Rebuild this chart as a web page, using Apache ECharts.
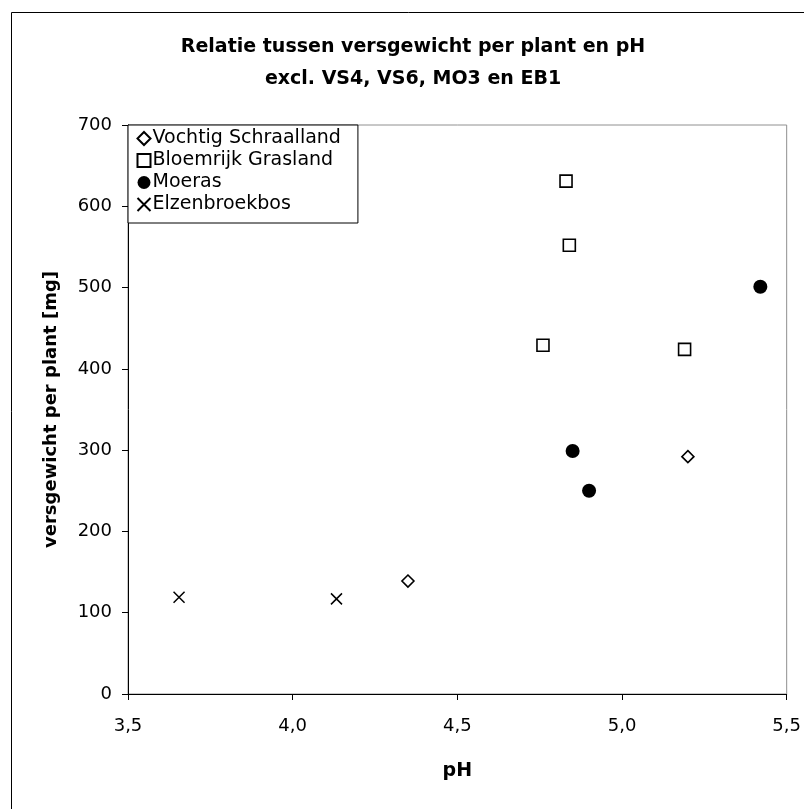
<!DOCTYPE html>
<html>
<head>
<meta charset="utf-8">
<script src="https://cdn.jsdelivr.net/npm/echarts@6/dist/echarts.min.js"></script>
<style>
  html, body { margin: 0; padding: 0; background: #fff; }
  #chart { width: 804px; height: 809px; }
</style>
</head>
<body>
<div id="chart"></div>
<script>
// [pH, versgewicht]
const vochtigSchraalland = [[4.35, 139], [5.20, 292]]
const bloemrijkGrasland = [[4.83, 631], [4.84, 552], [4.76, 429], [5.19, 424]]
const moeras = [[4.85, 299], [4.90, 250], [5.42, 501]]
const elzenbroekbos = [[3.655, 119], [4.133, 117]]

const xTicks = { min: 3.5, max: 5.5, step: 0.5 }
const yTicks = { min: 0, max: 700, step: 100 }

const font = '"DejaVu Sans", sans-serif'
const crossPath = 'path://M0,0L10,10M10,0L0,10'

const myChart = echarts.init(document.getElementById('chart'))

const option = {
  backgroundColor: '#fff',
  animation: false,
  title: {
    text: 'Relatie tussen versgewicht per plant en pH\nexcl. VS4, VS6, MO3 en EB1',
    left: 408,
    top: 26,
    textAlign: 'center',
    textStyle: {
      fontFamily: font,
      fontSize: 19,
      fontWeight: 'bold',
      color: '#000',
      lineHeight: 32
    }
  },
  graphic: [
    {
      type: 'rect',
      left: 9,
      top: 10,
      shape: { width: 830, height: 840 },
      style: { fill: null, stroke: '#000', lineWidth: 1 },
      silent: true,
      z: -1
    }
  ],
  legend: {
    orient: 'vertical',
    left: 128,
    top: 125,
    itemGap: 3,
    itemWidth: 13,
    itemHeight: 13,
    padding: [4, 17, 9, 7],
    borderColor: '#000',
    borderWidth: 1,
    backgroundColor: '#fff',
    textStyle: { fontFamily: font, fontSize: 19, color: '#000', padding: [0, 0, 0, -3] },
    data: ['Vochtig Schraalland', 'Bloemrijk Grasland', 'Moeras', 'Elzenbroekbos']
  },
  grid: {
    left: 128,
    right: 16,
    top: 125,
    bottom: 115,
    show: true,
    borderColor: '#909090',
    borderWidth: 1
  },
  xAxis: {
    type: 'value',
    min: xTicks.min,
    max: xTicks.max,
    interval: xTicks.step,
    name: 'pH',
    nameLocation: 'middle',
    nameGap: 68,
    nameTextStyle: { fontFamily: font, fontSize: 19, fontWeight: 'bold', color: '#000' },
    axisLine: { show: true, lineStyle: { color: '#000', width: 1 } },
    axisTick: { show: true, length: 6, lineStyle: { color: '#000' } },
    axisLabel: {
      fontFamily: font,
      fontSize: 18,
      color: '#000',
      margin: 23,
      formatter: v => v.toFixed(1).replace('.', ',')
    },
    splitLine: { show: false }
  },
  yAxis: {
    type: 'value',
    min: yTicks.min,
    max: yTicks.max,
    interval: yTicks.step,
    name: 'versgewicht per plant [mg]',
    nameLocation: 'middle',
    nameGap: 68,
    nameTextStyle: { fontFamily: font, fontSize: 18, fontWeight: 'bold', color: '#000' },
    axisLine: { show: true, lineStyle: { color: '#000', width: 1 } },
    axisTick: { show: true, length: 6, lineStyle: { color: '#000' } },
    axisLabel: { fontFamily: font, fontSize: 18, color: '#000', margin: 16 },
    splitLine: { show: false }
  },
  series: [
    {
      name: 'Vochtig Schraalland',
      type: 'scatter',
      symbol: 'diamond',
      symbolSize: 12,
      itemStyle: { color: '#fff', borderColor: '#000', borderWidth: 1.6, opacity: 1 },
      data: vochtigSchraalland
    },
    {
      name: 'Bloemrijk Grasland',
      type: 'scatter',
      symbol: 'rect',
      symbolSize: 12,
      itemStyle: { color: '#fff', borderColor: '#000', borderWidth: 1.6, opacity: 1 },
      data: bloemrijkGrasland
    },
    {
      name: 'Moeras',
      type: 'scatter',
      symbol: 'circle',
      symbolSize: 14,
      itemStyle: { color: '#000', opacity: 1 },
      data: moeras
    },
    {
      name: 'Elzenbroekbos',
      type: 'scatter',
      symbol: crossPath,
      symbolSize: 11,
      itemStyle: { color: 'none', borderColor: '#000', borderWidth: 1.5, opacity: 1 },
      data: elzenbroekbos
    }
  ]
}

option && myChart.setOption(option)
</script>
</body>
</html>
